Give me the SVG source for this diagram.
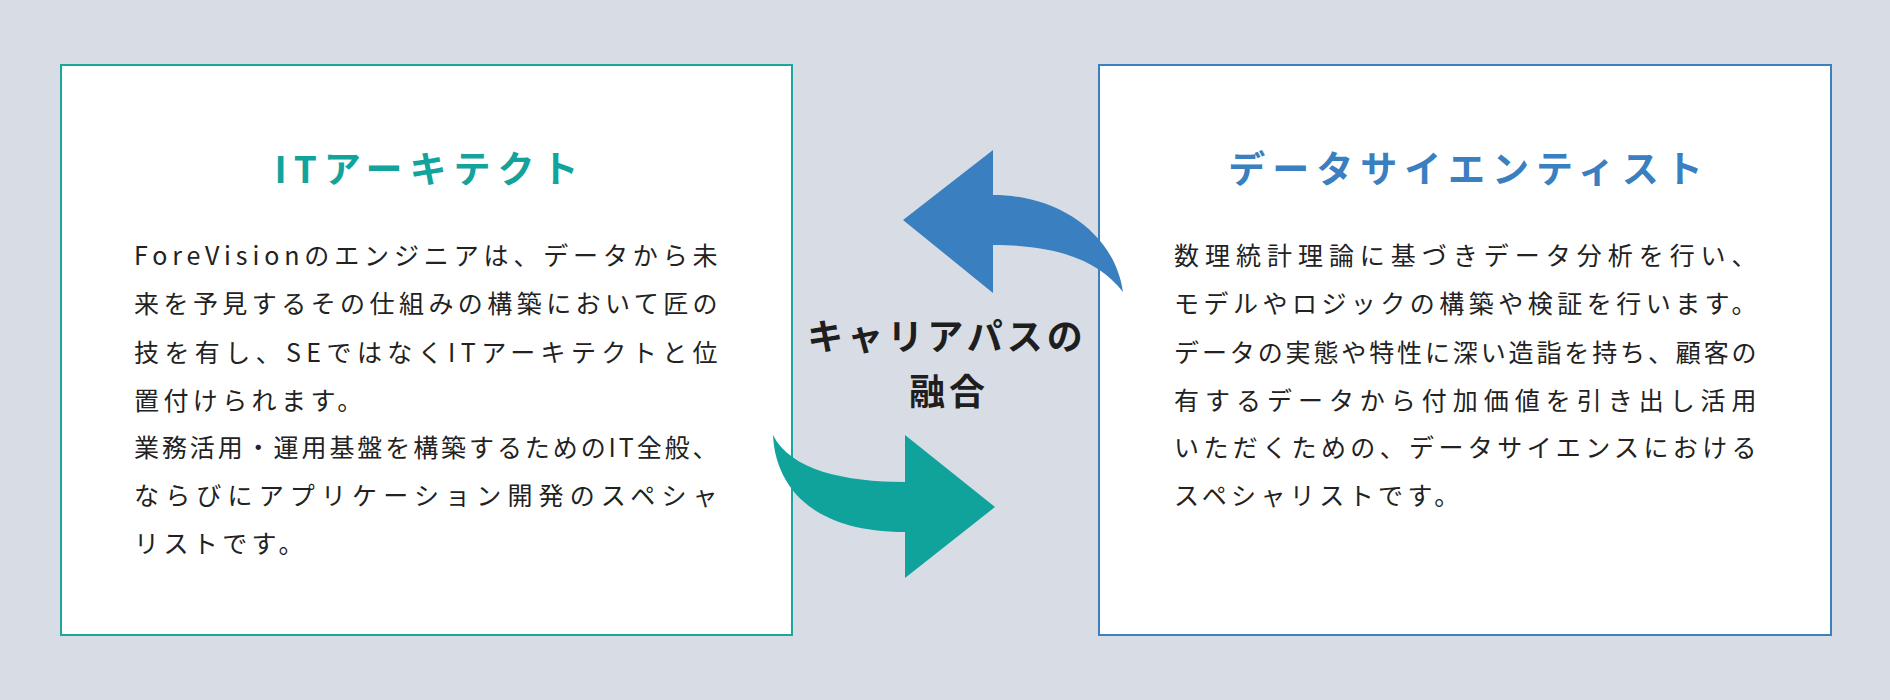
<svg xmlns="http://www.w3.org/2000/svg" width="1890" height="700" viewBox="0 0 1890 700">
<style>
.bg{fill:#d8dde5}
.box{fill:#ffffff;stroke-width:2}
.title{font-family:"Noto Sans CJK JP","Noto Sans",sans-serif;font-size:37px;font-weight:700;letter-spacing:7px;text-anchor:middle}
.body{font-family:"Noto Sans CJK JP","Noto Sans",sans-serif;font-size:25px;font-weight:400;letter-spacing:4.4px;fill:#222222}
.center{font-family:"Noto Sans CJK JP","Noto Sans",sans-serif;font-size:36px;font-weight:700;letter-spacing:4px;text-anchor:middle;fill:#1e1e1e}
</style>
<rect class="bg" x="0" y="0" width="1890" height="700"/>
<g id="it-architect">
<rect class="box" x="61" y="65" width="731" height="570" stroke="#1aa5a0"/>
<text class="title" x="430" y="183" fill="#12a39c">ITアーキテクト</text>
<text class="body" x="134" y="265" textLength="588" lengthAdjust="spacing">ForeVisionのエンジニアは、データから未</text>
<text class="body" x="134" y="313" textLength="588" lengthAdjust="spacing">来を予見するその仕組みの構築において匠の</text>
<text class="body" x="134" y="362" textLength="588" lengthAdjust="spacing">技を有し、SEではなくITアーキテクトと位</text>
<text class="body" x="134" y="410">置付けられます。</text>
<text class="body" x="134" y="457" textLength="588" lengthAdjust="spacing">業務活用・運用基盤を構築するためのIT全般、</text>
<text class="body" x="134" y="505" textLength="588" lengthAdjust="spacing">ならびにアプリケーション開発のスペシャ</text>
<text class="body" x="134" y="553">リストです。</text>
</g>
<g id="data-scientist">
<rect class="box" x="1099" y="65" width="732" height="570" stroke="#3d80c0"/>
<text class="title" x="1469" y="183" fill="#3a7fbf">データサイエンティスト</text>
<text class="body" x="1174" y="265" textLength="587" lengthAdjust="spacing">数理統計理論に基づきデータ分析を行い、</text>
<text class="body" x="1174" y="313" textLength="587" lengthAdjust="spacing">モデルやロジックの構築や検証を行います。</text>
<text class="body" x="1174" y="362" textLength="587" lengthAdjust="spacing">データの実態や特性に深い造詣を持ち、顧客の</text>
<text class="body" x="1174" y="410" textLength="587" lengthAdjust="spacing">有するデータから付加価値を引き出し活用</text>
<text class="body" x="1174" y="457" textLength="587" lengthAdjust="spacing">いただくための、データサイエンスにおける</text>
<text class="body" x="1174" y="505">スペシャリストです。</text>
</g>
<g id="connectors">
<path d="M903 220 L993 150 L993 195 C1060 195 1115 235 1123 292 C1100 262 1060 245 993 245 L993 293 Z" fill="#3a7fbf"/>
<path d="M995 507 L905 435 L905 482 C845 482 790 470 773 435 C775 480 805 532 905 532 L905 578 Z" fill="#0fa39b"/>
</g>
<g id="career-label">
<text class="center" x="947" y="350">キャリアパスの</text>
<text class="center" x="949" y="405">融合</text>
</g>
</svg>
